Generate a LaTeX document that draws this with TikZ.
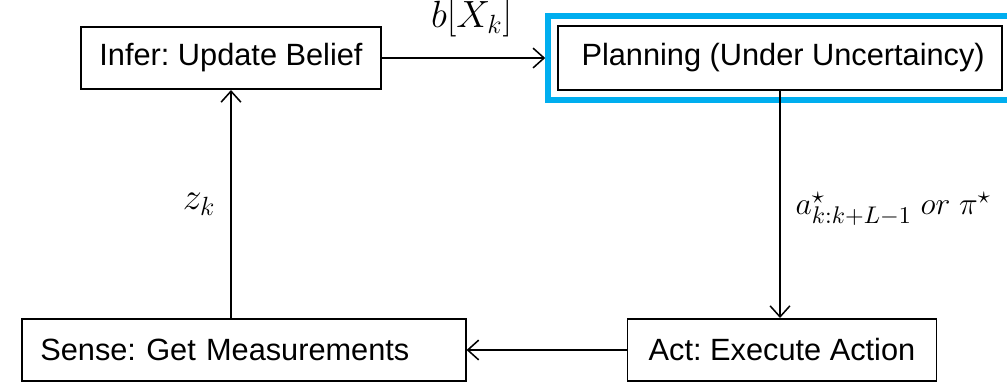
\documentclass[tikz,border=0pt]{standalone}
\usepackage{fontspec}
\setmainfont{Liberation Sans}
\usetikzlibrary{arrows.meta,fit}
\definecolor{focusblue}{HTML}{00AEEF}
\frenchspacing

\begin{document}
\begin{tikzpicture}[x=0.016cm, y=-0.016cm,
    stagebox/.style={draw, line width=0.7pt, minimum height=1cm, inner sep=0pt, font=\fontsize{14}{16}\selectfont},
    flow/.style={-{Straight Barb[length=5pt,width=9pt]}, line width=0.7pt},
    flowlabel/.style={font=\fontsize{18}{21}\selectfont}]
    \useasboundingbox (0,0) rectangle (1007,382);

    % the four stages of the loop
    \node[stagebox, minimum width=4.8cm] (infer) at (231,58) {Infer: Update Belief};
    \node[stagebox, minimum width=7.1cm, minimum height=1.02cm] (plan) at (780,58) {\hspace{0.1cm}Planning (Under Uncertaincy)};
    \node[stagebox, text width=6.52cm, inner xsep=0.29cm, align=left] (sense) at (244,350) {Sense: Get Measurements};
    \node[stagebox, minimum width=4.94cm] (act) at (782,350) {Act: Execute Action};

    % highlight round the planning stage, cut off at the right edge
    \coordinate (cut) at (1016,58);
    \node[draw=focusblue, line width=2.6pt, inner sep=0.15cm, fit=(plan)(cut)] (focus) {};

    \draw[flow] (infer) -- (focus.west |- infer) node[flowlabel, pos=0.55, above=0.2cm] (belief) {$b[X_k]$};
    \draw[flow] (plan.south) -- (plan.south |- act.north) node[flowlabel, font=\fontsize{15.5}{18}\selectfont, pos=0.52, right=0.12cm] (policy) {$a^{\star}_{k:k+L-1}\;or\;\pi^{\star}$};
    \draw[flow] (act) -- (sense);
    \draw[flow] (infer.south |- sense.north) -- (infer.south) node[flowlabel, midway, left=0.12cm] (meas) {$z_k$};
\end{tikzpicture}
\end{document}
